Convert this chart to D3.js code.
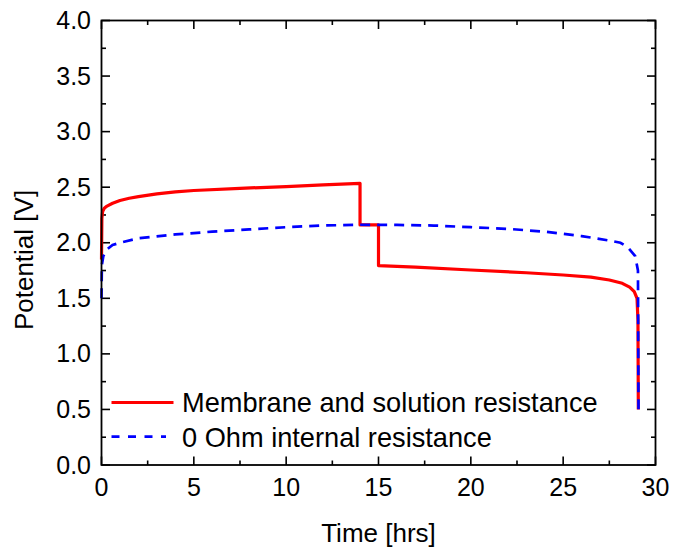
<!DOCTYPE html>
<html>
<head>
<meta charset="utf-8">
<script src="https://cdn.jsdelivr.net/npm/d3@7"></script>
<style>
  html, body { margin: 0; padding: 0; background: #fff; }
  svg { display: block; font-family: "Liberation Sans", Arial, sans-serif; }
</style>
</head>
<body>
<svg id="chart" width="673" height="548"></svg>
<script>
// Cell potential during charge / discharge
const membraneTime = [0, 0.02, 0.06, 0.15, 0.3, 0.6, 1.0, 1.5, 2.0, 3.0, 4.0, 5.0, 7.5, 10, 12, 14, 14, 15, 15, 17, 20, 23, 25, 26.5, 27.5, 28.2, 28.6, 28.85, 29.0, 29.05, 29.07];
const membraneV    = [1.85, 2.22, 2.28, 2.31, 2.33, 2.355, 2.38, 2.40, 2.415, 2.44, 2.457, 2.47, 2.49, 2.505, 2.52, 2.535, 2.16, 2.16, 1.795, 1.78, 1.755, 1.73, 1.71, 1.69, 1.665, 1.635, 1.60, 1.56, 1.50, 1.30, 0.50];

const zeroOhmTime = [0, 0.02, 0.1, 0.3, 0.6, 1.0, 2.0, 4.0, 6.0, 8.0, 10, 12, 14, 16, 18, 20, 22, 24, 26, 27.5, 28.1, 28.5, 28.9, 29.05, 29.08];
const zeroOhmV    = [1.50, 1.80, 1.88, 1.94, 1.98, 2.00, 2.04, 2.075, 2.10, 2.12, 2.14, 2.155, 2.162, 2.16, 2.155, 2.14, 2.125, 2.10, 2.06, 2.02, 2.00, 1.96, 1.88, 1.75, 0.50];

const xTicks = [0, 5, 10, 15, 20, 25, 30];
const yTicks = [0.0, 0.5, 1.0, 1.5, 2.0, 2.5, 3.0, 3.5, 4.0];
const seriesNames = ["Membrane and solution resistance", "0 Ohm internal resistance"];

const svg = d3.select("#chart");
const plotLeft = 101.5, plotRight = 655.5, plotTop = 20.5, plotBottom = 465;

const x = d3.scaleLinear().domain([0, 30]).range([plotLeft, plotRight]);
const y = d3.scaleLinear().domain([0, 4]).range([plotBottom, plotTop]);

const majorLen = 8.5, minorLen = 4.5;
const xMinor = d3.range(0, 30.01, 2.5);
const yMinor = d3.range(0, 4.001, 0.25);

// tick marks on all four sides, pointing inward
const ticks = svg.append("g").attr("stroke", "#000").attr("stroke-width", 1.6);
xMinor.forEach(t => {
  const isMajor = Math.abs(t / 5 - Math.round(t / 5)) < 1e-6;
  const len = isMajor ? majorLen : minorLen;
  ticks.append("line").attr("x1", x(t)).attr("x2", x(t)).attr("y1", plotBottom).attr("y2", plotBottom - len);
  ticks.append("line").attr("x1", x(t)).attr("x2", x(t)).attr("y1", plotTop).attr("y2", plotTop + len);
});
yMinor.forEach(v => {
  const isMajor = Math.abs(v / 0.5 - Math.round(v / 0.5)) < 1e-6;
  const len = isMajor ? majorLen : minorLen;
  ticks.append("line").attr("x1", plotLeft).attr("x2", plotLeft + len).attr("y1", y(v)).attr("y2", y(v));
  ticks.append("line").attr("x1", plotRight).attr("x2", plotRight - len).attr("y1", y(v)).attr("y2", y(v));
});

// tick labels
svg.append("g").selectAll("text").data(xTicks).join("text")
  .attr("x", d => x(d)).attr("y", 496)
  .attr("text-anchor", "middle").attr("font-size", 25).attr("fill", "#000")
  .text(d => d);
svg.append("g").selectAll("text").data(yTicks).join("text")
  .attr("x", 91).attr("y", d => y(d) + 8.6)
  .attr("text-anchor", "end").attr("font-size", 25).attr("fill", "#000")
  .text(d => d.toFixed(1));

// axis titles
svg.append("text").attr("x", (plotLeft + plotRight) / 2).attr("y", 541.5)
  .attr("text-anchor", "middle").attr("font-size", 26).text("Time [hrs]");
svg.append("text").attr("transform", "translate(33,260) rotate(-90)")
  .attr("text-anchor", "middle").attr("font-size", 26).text("Potential [V]");

// data lines
const line = d3.line().x(d => x(d[0])).y(d => y(d[1]));
const membrane = d3.zip(membraneTime, membraneV);
const zeroOhm = d3.zip(zeroOhmTime, zeroOhmV);

svg.append("path").datum(membrane).attr("d", line)
  .attr("fill", "none").attr("stroke", "#ff0000").attr("stroke-width", 3.2)
  .attr("stroke-linejoin", "round");
svg.append("path").datum(zeroOhm).attr("d", line)
  .attr("fill", "none").attr("stroke", "#0000ff").attr("stroke-width", 2.7)
  .attr("stroke-dasharray", "10,7");

// frame
svg.append("rect").attr("x", plotLeft).attr("y", plotTop)
  .attr("width", plotRight - plotLeft).attr("height", plotBottom - plotTop)
  .attr("fill", "none").attr("stroke", "#000").attr("stroke-width", 1.8);

// legend
const legend = svg.append("g");
legend.append("line").attr("x1", 111.5).attr("x2", 173.5).attr("y1", 402.5).attr("y2", 402.5)
  .attr("stroke", "#ff0000").attr("stroke-width", 3.2);
legend.append("line").attr("x1", 111.5).attr("x2", 166).attr("y1", 436.7).attr("y2", 436.7)
  .attr("stroke", "#0000ff").attr("stroke-width", 2.7).attr("stroke-dasharray", "8,8.5");
legend.append("text").attr("x", 182).attr("y", 412.3).attr("font-size", 27.2).text(seriesNames[0]);
legend.append("text").attr("x", 182).attr("y", 446.7).attr("font-size", 27.2).text(seriesNames[1]);
</script>
</body>
</html>
